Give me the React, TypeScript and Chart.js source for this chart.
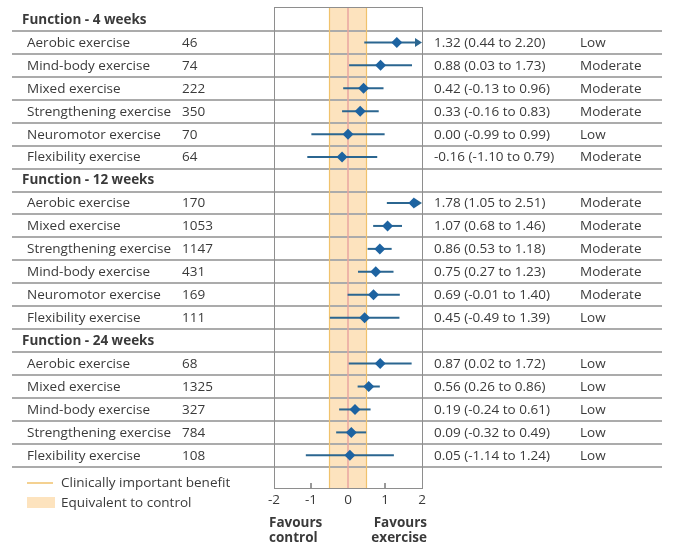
import React, { useEffect, useRef } from "react";
import { Chart, registerables } from "chart.js";

Chart.register(...registerables);

// ---- Data ----
const sectionTitles = ["Function - 4 weeks", "Function - 12 weeks", "Function - 24 weeks"];
const sectionCounts = [6, 6, 5];
const exercises = [
  "Aerobic exercise", "Mind-body exercise", "Mixed exercise", "Strengthening exercise", "Neuromotor exercise", "Flexibility exercise",
  "Aerobic exercise", "Mixed exercise", "Strengthening exercise", "Mind-body exercise", "Neuromotor exercise", "Flexibility exercise",
  "Aerobic exercise", "Mixed exercise", "Mind-body exercise", "Strengthening exercise", "Flexibility exercise",
];
const participants = [46, 74, 222, 350, 70, 64, 170, 1053, 1147, 431, 169, 111, 68, 1325, 327, 784, 108];
const estimates = [1.32, 0.88, 0.42, 0.33, 0.0, -0.16, 1.78, 1.07, 0.86, 0.75, 0.69, 0.45, 0.87, 0.56, 0.19, 0.09, 0.05];
const lowerCI = [0.44, 0.03, -0.13, -0.16, -0.99, -1.1, 1.05, 0.68, 0.53, 0.27, -0.01, -0.49, 0.02, 0.26, -0.24, -0.32, -1.14];
const upperCI = [2.2, 1.73, 0.96, 0.83, 0.99, 0.79, 2.51, 1.46, 1.18, 1.23, 1.4, 1.39, 1.72, 0.86, 0.61, 0.49, 1.24];
const certainty = [
  "Low", "Moderate", "Moderate", "Moderate", "Low", "Moderate",
  "Moderate", "Moderate", "Moderate", "Moderate", "Moderate", "Low",
  "Low", "Low", "Low", "Low", "Low",
];
const xTicks = [-2, -1, 0, 1, 2];
const equivalenceMargin = 0.5;
const legendLabels = ["Clinically important benefit", "Equivalent to control"];
const favourLabels = [["Favours", "control"], ["Favours", "exercise"]];

// ---- Styles ----
const FONT = '"Open Sans", "DejaVu Sans", sans-serif';
const FS = 13.5;
const TEXT = "#3a3a3a";
const BLUE = "#1d63a1";
const WHISKER = "#2b6690";
const GRID = "#ababab";
const BAND = "#fde3be";
const BAND_EDGE = "#f0c26c";
const ZERO = "#e8a6a0";
const BOX = "#8e8e8e";

type Row = { kind: "header"; title: string } | { kind: "item"; i: number };

function buildRows(): Row[] {
  const rows: Row[] = [];
  let k = 0;
  sectionTitles.forEach((t, s) => {
    rows.push({ kind: "header", title: t });
    for (let j = 0; j < sectionCounts[s]; j++) rows.push({ kind: "item", i: k++ });
  });
  return rows;
}

export default function App() {
  const ref = useRef<HTMLCanvasElement | null>(null);

  useEffect(() => {
    document.body.style.margin = "0";
    const rows = buildRows();
    const itemRow: number[] = [];
    rows.forEach((r, idx) => {
      if (r.kind === "item") itemRow[r.i] = idx;
    });
    const fmt = (v: number) => v.toFixed(2);

    const forestPlugin = {
      id: "forest",
      beforeDatasetsDraw(chart: any) {
        const { ctx, chartArea: a } = chart;
        const xs = chart.scales.x;
        const ys = chart.scales.y;
        ctx.save();
        // band
        const bl = xs.getPixelForValue(-equivalenceMargin);
        const br = xs.getPixelForValue(equivalenceMargin);
        ctx.fillStyle = BAND;
        ctx.fillRect(bl, a.top, br - bl, a.bottom - a.top);
        // row lines
        ctx.strokeStyle = GRID;
        ctx.lineWidth = 2;
        rows.forEach((_, idx) => {
          const y = Math.round(ys.getPixelForValue(idx + 0.5));
          ctx.beginPath();
          ctx.moveTo(12, y);
          ctx.lineTo(662, y);
          ctx.stroke();
        });
        // band edges
        ctx.strokeStyle = BAND_EDGE;
        ctx.lineWidth = 1.2;
        [bl, br].forEach((x) => {
          ctx.beginPath();
          ctx.moveTo(x, a.top);
          ctx.lineTo(x, a.bottom);
          ctx.stroke();
        });
        // zero line
        const z = xs.getPixelForValue(0);
        ctx.strokeStyle = ZERO;
        ctx.lineWidth = 1.5;
        ctx.beginPath();
        ctx.moveTo(z, a.top);
        ctx.lineTo(z, a.bottom);
        ctx.stroke();
        // box
        ctx.strokeStyle = BOX;
        ctx.lineWidth = 1;
        ctx.strokeRect(Math.round(a.left) + 0.5, Math.round(a.top) + 0.5, Math.round(a.right - a.left), Math.round(a.bottom - a.top));
        // tick marks
        ctx.strokeStyle = "#777";
        ctx.lineWidth = 1.5;
        xTicks.forEach((t) => {
          if (t === xs.min || t === xs.max || t === 0) return;
          const x = xs.getPixelForValue(t);
          ctx.beginPath();
          ctx.moveTo(x, a.bottom);
          ctx.lineTo(x, a.bottom - 5);
          ctx.stroke();
        });
        // whiskers
        ctx.strokeStyle = WHISKER;
        ctx.fillStyle = WHISKER;
        ctx.lineWidth = 2;
        estimates.forEach((_, i) => {
          const y = ys.getPixelForValue(itemRow[i]);
          const lo = Math.max(lowerCI[i], xs.min);
          const hi = Math.min(upperCI[i], xs.max);
          const x1 = xs.getPixelForValue(lo);
          const x2 = xs.getPixelForValue(hi);
          const clipped = upperCI[i] > xs.max;
          ctx.beginPath();
          ctx.moveTo(x1, y);
          ctx.lineTo(clipped ? x2 - 5 : x2, y);
          ctx.stroke();
          if (clipped) {
            ctx.beginPath();
            ctx.moveTo(x2, y);
            ctx.lineTo(x2 - 7, y - 4.5);
            ctx.lineTo(x2 - 7, y + 4.5);
            ctx.closePath();
            ctx.fill();
          }
        });
        ctx.restore();
      },
      afterDraw(chart: any) {
        const { ctx, chartArea: a } = chart;
        const xs = chart.scales.x;
        const ys = chart.scales.y;
        ctx.save();
        ctx.textBaseline = "middle";
        ctx.fillStyle = TEXT;
        rows.forEach((r, idx) => {
          const y = ys.getPixelForValue(idx) + 0.5;
          if (r.kind === "header") {
            ctx.font = `bold ${FS}px ${FONT}`;
            ctx.textAlign = "left";
            ctx.fillText(r.title, 22, y);
          } else {
            const i = r.i;
            ctx.font = `${FS}px ${FONT}`;
            ctx.textAlign = "left";
            ctx.fillText(exercises[i], 27, y);
            ctx.fillText(String(participants[i]), 182, y);
            ctx.fillText(`${fmt(estimates[i])} (${fmt(lowerCI[i])} to ${fmt(upperCI[i])})`, 434, y);
            ctx.fillText(certainty[i], 580, y);
          }
        });
        // x tick labels
        ctx.font = `${FS}px ${FONT}`;
        ctx.textAlign = "center";
        xTicks.forEach((t) => {
          ctx.fillText(String(t), xs.getPixelForValue(t), a.bottom + 12);
        });
        // favours labels
        ctx.font = `bold ${FS}px ${FONT}`;
        ctx.textAlign = "left";
        ctx.fillText(favourLabels[0][0], 269, a.bottom + 35);
        ctx.fillText(favourLabels[0][1], 269, a.bottom + 50);
        ctx.textAlign = "right";
        ctx.fillText(favourLabels[1][0], 427, a.bottom + 35);
        ctx.fillText(favourLabels[1][1], 427, a.bottom + 50);
        // legend
        ctx.strokeStyle = BAND_EDGE;
        ctx.lineWidth = 1.5;
        ctx.beginPath();
        ctx.moveTo(27, 483);
        ctx.lineTo(53, 483);
        ctx.stroke();
        ctx.fillStyle = BAND;
        ctx.fillRect(27, 497, 28, 11);
        ctx.fillStyle = TEXT;
        ctx.font = `${FS}px ${FONT}`;
        ctx.textAlign = "left";
        ctx.fillText(legendLabels[0], 61, 483);
        ctx.fillText(legendLabels[1], 61, 503);
        ctx.restore();
      },
    };

    const chart = new Chart(ref.current as HTMLCanvasElement, {
      type: "scatter",
      data: {
        datasets: [
          {
            data: estimates.map((e, i) => ({ x: e, y: itemRow[i] })),
            pointStyle: "rectRot",
            pointRadius: 5.5,
            pointHoverRadius: 5.5,
            backgroundColor: BLUE,
            borderColor: BLUE,
            borderWidth: 0,
          },
        ],
      },
      options: {
        responsive: false,
        animation: false,
        events: [],
        layout: { padding: { left: 274, right: 677 - 422, top: 7, bottom: 550 - 488 } },
        plugins: { legend: { display: false }, tooltip: { enabled: false } },
        scales: {
          x: { type: "linear", min: -2, max: 2, display: false },
          y: { type: "linear", min: -0.544, max: 20.424, reverse: true, display: false },
        },
      },
      plugins: [forestPlugin],
    });
    return () => chart.destroy();
  }, []);

  return (
    <div style={{ width: 677, height: 550, background: "#fff" }}>
      <canvas ref={ref} width={677} height={550} style={{ width: 677, height: 550, display: "block" }} />
    </div>
  );
}
